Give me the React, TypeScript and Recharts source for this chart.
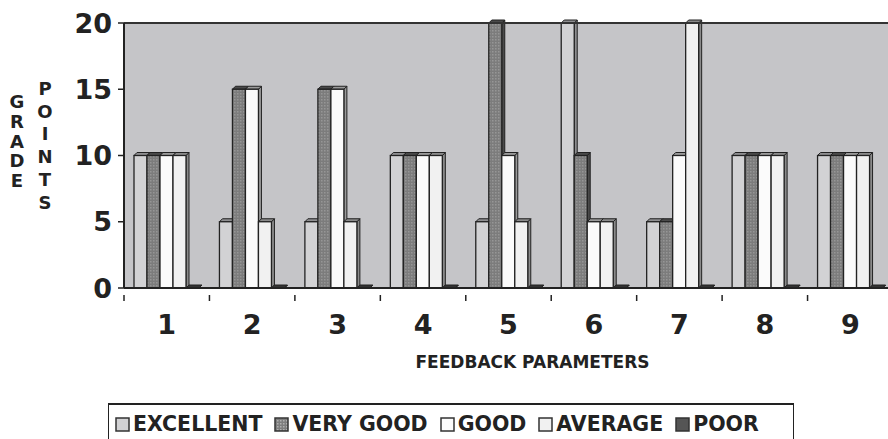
import { BarChart, Bar, XAxis, YAxis, ReferenceLine, Label } from "recharts";

const params = ["1", "2", "3", "4", "5", "6", "7", "8", "9"];
const excellent = [10, 5, 5, 10, 5, 20, 5, 10, 10];
const veryGood = [10, 15, 15, 10, 20, 10, 5, 10, 10];
const good = [10, 15, 15, 10, 10, 5, 10, 10, 10];
const average = [10, 5, 5, 10, 5, 5, 20, 10, 10];
const poor = [0, 0, 0, 0, 0, 0, 0, 0, 0];
const yTicks = [0, 5, 10, 15, 20];

const series = [
  { key: "excellent", name: "EXCELLENT", fill: "#d2d2d4", side: "#8e8e90" },
  { key: "veryGood", name: "VERY GOOD", fill: "url(#vgPat)", side: "#4a4a4a" },
  { key: "good", name: "GOOD", fill: "#fbfbfb", side: "#9a9a9a" },
  { key: "average", name: "AVERAGE", fill: "#f1f1f1", side: "#8a8a8a" },
  { key: "poor", name: "POOR", fill: "#555", side: "#333" },
];

const data = params.map((p, i) => ({
  param: p,
  excellent: excellent[i],
  veryGood: veryGood[i],
  good: good[i],
  average: average[i],
  poor: poor[i],
}));

const D = 3; // depth of the fake 3d look

function Bar3D(props: any) {
  const { x, y, width, height, fill, side } = props;
  const w = width;
  const h = Math.max(height, 0);
  return (
    <g>
      <polygon points={`${x + w},${y} ${x + w + D},${y - D} ${x + w + D},${y + h - D} ${x + w},${y + h}`} fill={side} stroke="#222" strokeWidth={1} />
      <polygon points={`${x},${y} ${x + D},${y - D} ${x + w + D},${y - D} ${x + w},${y}`} fill={side} stroke="#222" strokeWidth={1} />
      {h > 0 && <rect x={x} y={y} width={w} height={h} fill={fill} stroke="#222" strokeWidth={1.3} />}
    </g>
  );
}

function XTick(props: any) {
  const { x, y, payload, width } = props;
  const band = width / params.length;
  const bx = x - band / 2;
  return (
    <g>
      <line x1={bx} y1={y - 1} x2={bx} y2={y + 5} stroke="#222" strokeWidth={1.5} />
      <text x={x} y={y + 19} dy="0.71em" textAnchor="middle" fontFamily="DejaVu Sans" fontWeight="bold" fontSize={27} fill="#222">
        {payload.value}
      </text>
    </g>
  );
}

function YLabel() {
  const g = "GRADE".split("");
  const p = "POINTS".split("");
  return (
    <g fontFamily="DejaVu Sans" fontWeight="bold" fontSize={18} fill="#222" textAnchor="middle">
      {g.map((c, i) => (
        <text key={"g" + i} x={17} y={108 + i * 19.8}>{c}</text>
      ))}
      {p.map((c, i) => (
        <text key={"p" + i} x={45} y={95 + i * 22.7}>{c}</text>
      ))}
    </g>
  );
}

function Swatch({ fill }: { fill: string }) {
  return (
    <svg width={15} height={15} style={{ marginRight: 3 }}>
      <defs>
        <pattern id="vgPatL" width="3" height="3" patternUnits="userSpaceOnUse">
          <rect width="3" height="3" fill="#7e7e7e" />
          <rect width="1.5" height="1.5" fill="#b0b0b0" />
        </pattern>
      </defs>
      <rect x={1} y={1} width={13} height={13} fill={fill === "url(#vgPat)" ? "url(#vgPatL)" : fill} stroke="#333" strokeWidth={1.5} />
    </svg>
  );
}

export default function App() {
  return (
    <div style={{ position: "fixed", left: 0, top: 0, width: 888, height: 439, overflow: "hidden", background: "#fff" }}>
      <BarChart
        width={900}
        height={439}
        data={data}
        barGap={0}
        barCategoryGap={10}
        margin={{ top: 23, right: 7, left: 0, bottom: 51 }}
      >
        <defs>
          <pattern id="vgPat" width="3" height="3" patternUnits="userSpaceOnUse">
            <rect width="3" height="3" fill="#7c7c7c" />
            <rect width="1.5" height="1.5" fill="#969696" />
          </pattern>
        </defs>
        <rect x={124} y={23} width={776} height={265} fill="#c5c5c8" />
        <XAxis
          dataKey="param"
          height={100}
          axisLine={{ stroke: "#222", strokeWidth: 2 }}
          tickLine={false}
          tick={<XTick />}
          interval={0}
        >
          <Label
            content={(p: any) => (
              <text
                x={p.viewBox.x + p.viewBox.width / 2 + 24}
                y={p.viewBox.y + 80}
                textAnchor="middle"
                fontFamily="DejaVu Sans"
                fontWeight="bold"
                fontSize={17}
                fill="#222"
              >
                FEEDBACK PARAMETERS
              </text>
            )}
          />
        </XAxis>
        <YAxis
          width={124}
          domain={[0, 20]}
          ticks={yTicks}
          interval={0}
          axisLine={{ stroke: "#222", strokeWidth: 2 }}
          tickLine={{ stroke: "#222", strokeWidth: 1.5 }}
          tickSize={6}
          tickMargin={6}
          tick={{ fontFamily: "DejaVu Sans", fontWeight: "bold", fontSize: 27, fill: "#222" }}
        >
          <Label content={() => <YLabel />} />
        </YAxis>
        <ReferenceLine y={20} stroke="#333" strokeWidth={2} />
        {series.map((s) => (
          <Bar
            key={s.key}
            dataKey={s.key}
            name={s.name}
            fill={s.fill}
            isAnimationActive={false}
            shape={(p: any) => <Bar3D {...p} side={s.side} />}
          />
        ))}
      </BarChart>
      <div
        style={{
          position: "absolute",
          left: 108,
          top: 403,
          width: 686,
          height: 44,
          borderTop: "2px solid #222",
          borderLeft: "1.5px solid #222",
          borderRight: "1.5px solid #222",
          display: "flex",
          alignItems: "flex-start",
          paddingTop: 8,
          paddingLeft: 6,
          boxSizing: "border-box",
          fontFamily: "DejaVu Sans",
          fontWeight: "bold",
          fontSize: 20.5,
          color: "#222",
          lineHeight: "22px",
          whiteSpace: "nowrap",
        }}
      >
        {series.map((s) => (
          <div key={s.key} style={{ display: "flex", alignItems: "center", marginRight: 12 }}>
            <Swatch fill={s.fill} />
            <span>{s.name}</span>
          </div>
        ))}
      </div>
    </div>
  );
}
